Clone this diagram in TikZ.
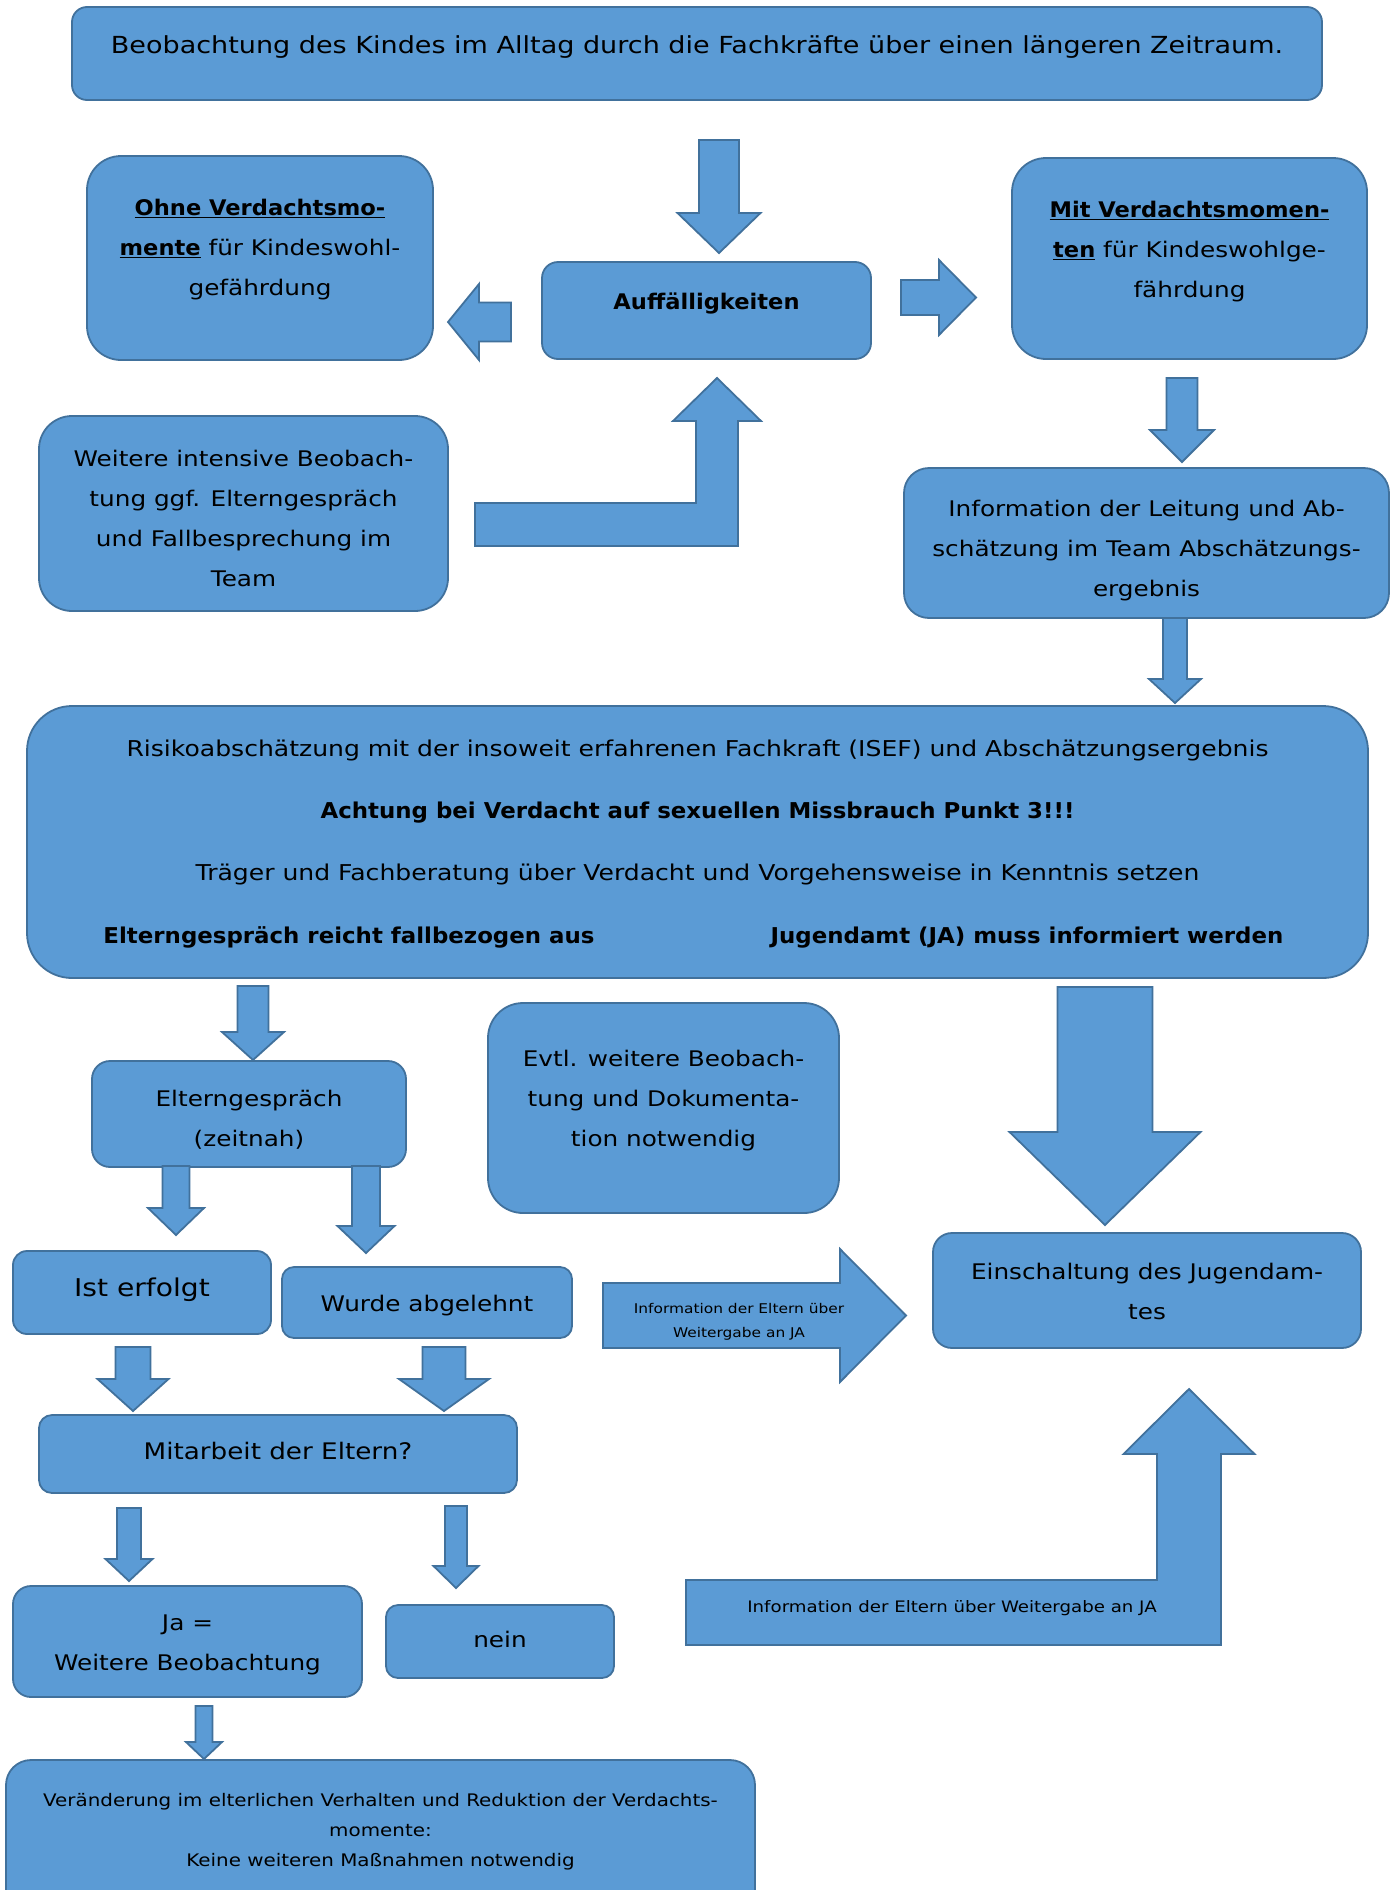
\documentclass[tikz,border=0pt]{standalone}
\usepackage{fontspec}
\setmainfont{DejaVu Sans}[FakeStretch=1.15, BoldFeatures={FakeStretch=1.05}]
\usetikzlibrary{positioning,calc}

\definecolor{boxfill}{HTML}{5B9BD5}
\definecolor{boxline}{HTML}{41719C}

\tikzset{
  box/.style={draw=boxline, fill=boxfill, line width=1.8pt, rounded corners=#1},
  box/.default=15pt,
  blk/.style={draw=boxline, fill=boxfill, line width=1.8pt, line join=miter},
  txt/.style={align=center, inner sep=0pt, font=\fontsize{21.5}{40}\selectfont},
  small/.style={align=center, inner sep=0pt, font=\fontsize{#1}{24}\selectfont},
}

% block arrow: tail, tip, shaft half width, head half width, head length
\newcommand{\blockarrow}[5]{%
  \coordinate (hb) at ($(#2)!#5!(#1)$);
  \draw[blk] ($(#1)!#3!90:(#2)$) -- ($(hb)!#3!90:(#2)$) -- ($(hb)!#4!90:(#2)$)
    -- (#2) -- ($(hb)!#4!-90:(#2)$) -- ($(hb)!#3!-90:(#2)$) -- ($(#1)!#3!-90:(#2)$) -- cycle;
}

\begin{document}
\begin{tikzpicture}[x=1pt, y=-1pt]
  \useasboundingbox[fill=white] (0,0) rectangle (1397,1890);

  % boxes
  \node[box=15pt, minimum width=1250pt, minimum height=93pt] (beob) at (697,53.5) {};
  \node[box=34pt, minimum width=346pt, minimum height=204pt] (ohne) at (260,258) {};
  \node[box=16pt, minimum width=329pt, minimum height=97pt] (auff) at (706.5,310.5) {};
  \node[box=34pt, minimum width=355pt, minimum height=201pt] (mit) at (1189.5,258.5) {};
  \node[box=33pt, minimum width=409pt, minimum height=195pt] (weit) at (243.5,513.5) {};
  \node[box=25pt, minimum width=485pt, minimum height=150pt] (info) at (1146.5,543) {};
  \node[box=45pt, minimum width=1341pt, minimum height=272pt] (risk) at (697.5,842) {};
  \node[box=18pt, minimum width=314pt, minimum height=106pt] (eltg) at (249,1114) {};
  \node[box=35pt, minimum width=351pt, minimum height=210pt] (evtl) at (663.5,1108) {};
  \node[box=14pt, minimum width=258pt, minimum height=83pt] (ist) at (142,1292.5) {};
  \node[box=12pt, minimum width=290pt, minimum height=71pt] (wurde) at (427,1302.5) {};
  \node[box=19pt, minimum width=428pt, minimum height=115pt] (einsch) at (1147,1290.5) {};
  \node[box=13pt, minimum width=478pt, minimum height=78pt] (mitarb) at (278,1454) {};
  \node[box=18pt, minimum width=349pt, minimum height=111pt] (ja) at (187.5,1641.5) {};
  \node[box=12pt, minimum width=228pt, minimum height=73pt] (nein) at (500,1641.5) {};
  \node[box=25pt, minimum width=749pt, minimum height=160pt] (veraend) at (380.5,1840) {};

  % block arrows
  \coordinate (a1s) at (719,140);     \coordinate (a1e) at (719,253);
  \blockarrow{a1s}{a1e}{20pt}{41.5pt}{40pt}
  \coordinate (a2s) at (511,322);     \coordinate (a2e) at (448,322);
  \blockarrow{a2s}{a2e}{19.5pt}{38pt}{31pt}
  \coordinate (a3s) at (901,297.5);   \coordinate (a3e) at (976,297.5);
  \blockarrow{a3s}{a3e}{17.5pt}{37.5pt}{37pt}
  \coordinate (a4s) at (1182,378);    \coordinate (a4e) at (1182,462);
  \blockarrow{a4s}{a4e}{15.5pt}{32pt}{32pt}
  \coordinate (a5s) at (1175,618);    \coordinate (a5e) at (1175,703);
  \blockarrow{a5s}{a5e}{12pt}{26pt}{24pt}
  \coordinate (a6s) at (253,986);     \coordinate (a6e) at (253,1060);
  \blockarrow{a6s}{a6e}{15.5pt}{31pt}{28pt}
  \coordinate (a7s) at (1105,987);    \coordinate (a7e) at (1105,1225);
  \blockarrow{a7s}{a7e}{47.5pt}{95.5pt}{93pt}
  \coordinate (a8s) at (176,1166);    \coordinate (a8e) at (176,1235);
  \blockarrow{a8s}{a8e}{13.5pt}{28pt}{27pt}
  \coordinate (a9s) at (366,1166);    \coordinate (a9e) at (366,1253);
  \blockarrow{a9s}{a9e}{14pt}{28.5pt}{27pt}
  \coordinate (a10s) at (133,1347);   \coordinate (a10e) at (133,1411);
  \blockarrow{a10s}{a10e}{17.5pt}{35.5pt}{32pt}
  \coordinate (a11s) at (444,1347);   \coordinate (a11e) at (444,1411);
  \blockarrow{a11s}{a11e}{21.5pt}{45pt}{32pt}
  \coordinate (a12s) at (129,1508);   \coordinate (a12e) at (129,1581);
  \blockarrow{a12s}{a12e}{12pt}{23.5pt}{22pt}
  \coordinate (a13s) at (456,1506);   \coordinate (a13e) at (456,1588);
  \blockarrow{a13s}{a13e}{11pt}{22.5pt}{22pt}
  \coordinate (a14s) at (204,1706);   \coordinate (a14e) at (204,1759);
  \blockarrow{a14s}{a14e}{8.5pt}{18pt}{17pt}
  \coordinate (a15s) at (603,1315.5); \coordinate (a15e) at (906,1315.5);
  \blockarrow{a15s}{a15e}{32.5pt}{66.5pt}{66pt}

  % bent arrows
  \coordinate (l1s) at (475,524.5);   \coordinate (l1e) at (717,378);
  \coordinate (l1c) at (l1e |- l1s);
  \draw[blk] ($(l1s)+(0,-21.5)$) -- ($(l1c)+(-21,-21.5)$) -- ($(l1e)+(-21,43)$) -- ($(l1e)+(-44,43)$)
    -- (l1e) -- ($(l1e)+(44,43)$) -- ($(l1e)+(21,43)$) -- ($(l1c)+(21,21.5)$) -- ($(l1s)+(0,21.5)$) -- cycle;
  \coordinate (l2s) at (686,1612.5);  \coordinate (l2e) at (1189,1389);
  \coordinate (l2c) at (l2e |- l2s);
  \draw[blk] ($(l2s)+(0,-32.5)$) -- ($(l2c)+(-32,-32.5)$) -- ($(l2e)+(-32,65)$) -- ($(l2e)+(-65.5,65)$)
    -- (l2e) -- ($(l2e)+(65.5,65)$) -- ($(l2e)+(32,65)$) -- ($(l2c)+(32,32.5)$) -- ($(l2s)+(0,32.5)$) -- cycle;

  % texts
  \node[txt, font=\fontsize{23.5}{40}\selectfont, below=29pt of beob.north] (beobtxt)
    {Beobachtung des Kindes im Alltag durch die Fachkräfte über einen längeren Zeitraum.};
  \node[txt, below=44pt of ohne.north] (ohnetxt)
    {\underline{\textbf{Ohne Verdachtsmo-}}\\\underline{\textbf{mente}} für Kindeswohl-\\gefährdung};
  \node[txt, below=32pt of auff.north] (aufftxt) {\textbf{Auffälligkeiten}};
  \node[txt, below=44pt of mit.north] (mittxt)
    {\underline{\textbf{Mit Verdachtsmomen-}}\\\underline{\textbf{ten}} für Kindeswohlge-\\fährdung};
  \node[txt, below=35pt of weit.north] (weittxt)
    {Weitere intensive Beobach-\\tung ggf. Elterngespräch\\und Fallbesprechung im\\Team};
  \node[txt, below=33pt of info.north] (infotxt)
    {Information der Leitung und Ab-\\schätzung im Team Abschätzungs-\\ergebnis};
  \node[txt, font=\fontsize{21.8}{62}\selectfont, below=35pt of risk.north] (risktxt)
    {Risikoabschätzung mit der insoweit erfahrenen Fachkraft (ISEF) und Abschätzungsergebnis\\
     \textbf{Achtung bei Verdacht auf sexuellen Missbrauch Punkt 3!!!}\\
     Träger und Fachberatung über Verdacht und Vorgehensweise in Kenntnis setzen};
  \node[txt, font=\fontsize{21.8}{62}\selectfont\bfseries, anchor=base] (riskl) at (349,943)
    {Elterngespräch reicht fallbezogen aus};
  \node[txt, font=\fontsize{21.8}{62}\selectfont\bfseries, anchor=base] (riskr) at (1027,943)
    {Jugendamt (JA) muss informiert werden};
  \node[txt, below=30pt of eltg.north] (eltgtxt) {Elterngespräch\\(zeitnah)};
  \node[txt, below=48pt of evtl.north] (evtltxt)
    {Evtl. weitere Beobach-\\tung und Dokumenta-\\tion notwendig};
  \node[txt, font=\fontsize{24.5}{40}\selectfont, below=28pt of ist.north] (isttxt) {Ist erfolgt};
  \node[txt, below=29pt of wurde.north] (wurdetxt) {Wurde abgelehnt};
  \node[small=13.4, anchor=north] (a15txt) at (739,1303)
    {Information der Eltern über\\Weitergabe an JA};
  \node[txt, below=31pt of einsch.north] (einschtxt) {Einschaltung des Jugendam-\\tes};
  \node[txt, font=\fontsize{22.8}{40}\selectfont, below=28pt of mitarb.north] (mitarbtxt) {Mitarbeit der Eltern?};
  \node[small=15.8, anchor=base] (l2txt) at (952,1612)
    {Information der Eltern über Weitergabe an JA};
  \node[txt, below=30pt of ja.north] (jatxt) {Ja =\\Weitere Beobachtung};
  \node[txt, below=27pt of nein.north] (neintxt) {nein};
  \node[txt, font=\fontsize{17.3}{30}\selectfont, below=34pt of veraend.north] (veraendtxt)
    {Veränderung im elterlichen Verhalten und Reduktion der Verdachts-\\momente:\\Keine weiteren Maßnahmen notwendig};
\end{tikzpicture}
\end{document}
